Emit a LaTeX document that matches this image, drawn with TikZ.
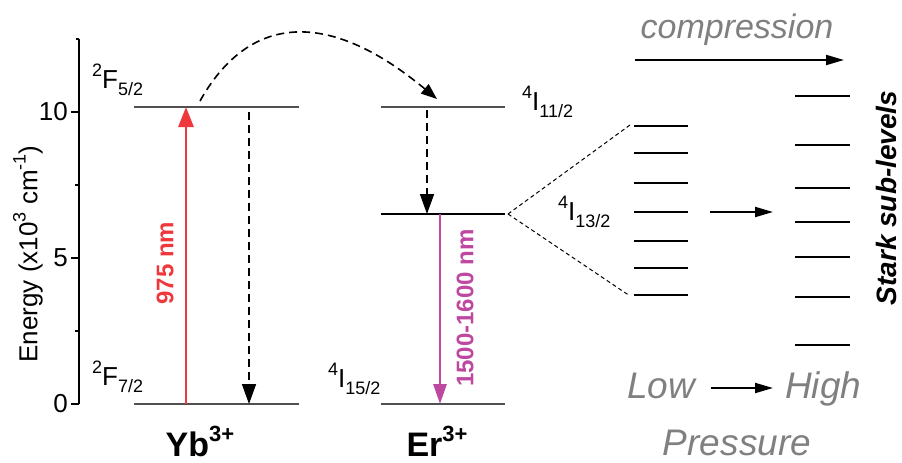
\documentclass[tikz,border=0pt]{standalone}
\usepackage{fontspec}
\setmainfont{Liberation Sans}
\usetikzlibrary{arrows.meta}
\definecolor{laserred}{RGB}{238,56,60}
\definecolor{emmag}{RGB}{190,72,160}
\definecolor{lvlgray}{RGB}{80,80,80}
\definecolor{txtgray}{RGB}{128,128,128}
\newcommand{\fs}[1]{\fontsize{#1}{#1}\selectfont}
\newcommand{\upx}[1]{\raisebox{0.45em}{\fs{18}#1}}
\newcommand{\dnx}[1]{\raisebox{-0.3em}{\fs{18}#1}}
\tikzset{
  lvl/.style={draw=lvlgray,line width=1.2pt},
  starklvl/.style={draw=black,line width=2pt},
  lbl/.style={inner sep=0pt,font=\fs{26}},
  ticklbl/.style={inner sep=0pt,font=\fs{26},anchor=east},
  bigtip/.style={-{Triangle[length=20pt,width=14pt]}},
  smalltip/.style={-{Triangle[length=18pt,width=10pt]}},
  dasharrow/.style={bigtip,line width=1.6pt,dash pattern=on 8pt off 5pt},
  splitline/.style={line width=1pt,dash pattern=on 4pt off 3pt},
  graytxt/.style={inner sep=0pt,text=txtgray,font=\fs{37}\itshape},
}
\begin{document}
\begin{tikzpicture}[x=1pt,y=-1pt]
\useasboundingbox (0,0) rectangle (902,463);
% axis
\coordinate (axtop) at (79,39);
\coordinate (axbot) at (79,404);
\draw[line width=1.5pt] (axtop) -- (axbot);
\draw[line width=1.5pt] (76,39) -- (axtop);
\foreach \yy in {404,258,112} \draw[line width=1.5pt] (71,\yy) -- (79,\yy);
\foreach \yy in {331,185} \draw[line width=1.5pt] (75,\yy) -- (79,\yy);
\node[ticklbl] (t10) at (68,112) {10};
\node[ticklbl] (t5) at (68,258) {5};
\node[ticklbl] (t0) at (68,404) {0};
\node[inner sep=0pt,font=\fs{26},rotate=90] (elabel) at (28,254) {Energy (x10\upx{3} cm\upx{-1})};
% Yb levels
\coordinate (ybTl) at (134,107); \coordinate (ybTr) at (299,107);
\coordinate (ybBl) at (134,404); \coordinate (ybBr) at (299,404);
\draw[lvl] (ybTl) -- (ybTr);
\draw[lvl] (ybBl) -- (ybBr);
\node[lbl,anchor=base west] (lF52) at (92,88) {\upx{2}F\dnx{5/2}};
\node[lbl,anchor=base west] (lF72) at (92,385) {\upx{2}F\dnx{7/2}};
% red pump
\coordinate (pumpB) at (186,404); \coordinate (pumpT) at (186,107);
\draw[laserred,line width=2.8pt,-{Triangle[length=20pt,width=15pt]}] (pumpB) -- (pumpT);
\node[inner sep=0pt,text=laserred,font=\fs{24}\bfseries,rotate=90] (l975) at (165,263) {975 nm};
% Yb relaxation
\coordinate (ybrT) at (249,112); \coordinate (ybrB) at (249,404);
\draw[dasharrow] (ybrT) -- (ybrB);
% energy transfer
\coordinate (etS) at (200,101); \coordinate (etE) at (437,99);
\draw[line width=1.6pt,dash pattern=on 8pt off 5pt,-{Triangle[length=16pt,width=12pt]}] (etS) .. controls (250,12) and (330,10) .. (etE);
% Er levels
\coordinate (er11l) at (381,107); \coordinate (er11r) at (505,107);
\coordinate (er13l) at (381,214); \coordinate (er13r) at (505,214);
\coordinate (er15l) at (381,404); \coordinate (er15r) at (505,404);
\draw[lvl] (er11l) -- (er11r);
\draw[line width=2.5pt] (er13l) -- (er13r);
\draw[lvl] (er15l) -- (er15r);
\node[lbl,anchor=base west] (lI11) at (522,110) {\upx{4}I\dnx{11/2}};
\node[lbl,anchor=base west] (lI13) at (558,220) {\upx{4}I\dnx{13/2}};
\node[lbl,anchor=base west] (lI15) at (328,387) {\upx{4}I\dnx{15/2}};
% Er relax
\coordinate (errT) at (427,110); \coordinate (errB) at (427,214);
\draw[dasharrow] (errT) -- (errB);
% emission
\coordinate (emT) at (440,214); \coordinate (emB) at (440,404);
\draw[emmag,line width=2.8pt,-{Triangle[length=20pt,width=13pt]}] (emT) -- (emB);
\node[inner sep=0pt,text=emmag,font=\fs{24}\bfseries,rotate=90] (l1500) at (465,308) {1500-1600 nm};
% split lines
\coordinate (splitO) at (508,214);
\coordinate (splitT) at (630,125); \coordinate (splitB) at (630,296);
\draw[splitline] (splitO) -- (splitT);
\draw[splitline] (splitO) -- (splitB);
% Stark low
\foreach \yy in {126,153,183,212,241,268,295} \draw[starklvl] (634,\yy) -- (688,\yy);
% Stark high
\foreach \yy in {96,145,188,222,257,297,345} \draw[starklvl] (795,\yy) -- (850,\yy);
% middle arrow
\coordinate (midS) at (710,212); \coordinate (midE) at (773,212);
\draw[line width=2pt,smalltip] (midS) -- (midE);
% compression
\coordinate (cmpS) at (635,60); \coordinate (cmpE) at (844,60);
\draw[line width=2pt,smalltip] (cmpS) -- (cmpE);
\node[inner sep=0pt,text=txtgray,font=\fs{34}\itshape,anchor=base] (lcomp) at (737,38) {compression};
% Stark label
\node[inner sep=0pt,font=\fs{28}\bfseries\itshape,rotate=90] (lstark) at (886,198) {Stark sub-levels};
% pressure
\node[graytxt,anchor=base west] (llow) at (627,398) {Low};
\node[graytxt,anchor=base west] (lhigh) at (785,398) {High};
\coordinate (prS) at (711,388); \coordinate (prE) at (773,388);
\draw[line width=2pt,smalltip] (prS) -- (prE);
\node[graytxt,anchor=base] (lpress) at (737,455) {Pressure};
% ion labels
\node[inner sep=0pt,font=\fs{34}\bfseries,anchor=base] (yb) at (200,456) {Yb\raisebox{0.42em}{\fs{22}3+}};
\node[inner sep=0pt,font=\fs{34}\bfseries,anchor=base] (er) at (437,456) {Er\raisebox{0.42em}{\fs{22}3+}};
\end{tikzpicture}
\end{document}
